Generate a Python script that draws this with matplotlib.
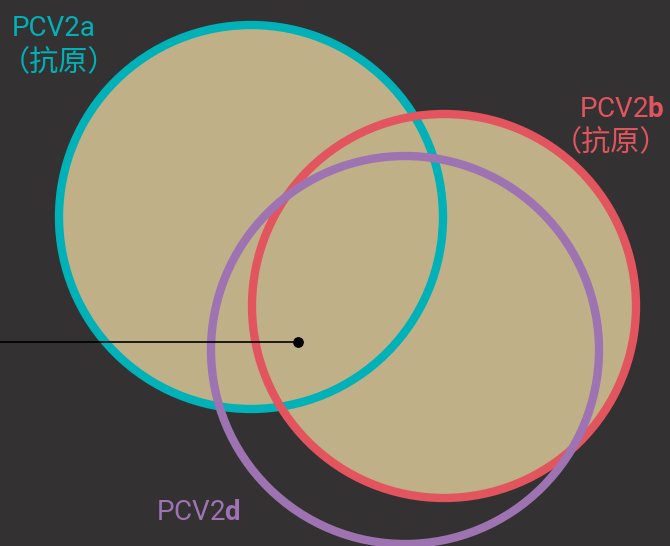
import matplotlib
matplotlib.use('Agg')
import matplotlib.pyplot as plt
from matplotlib.patches import Circle

plt.rcParams['font.family'] = ['Roboto', 'Noto Sans CJK SC', 'DejaVu Sans']
plt.rcParams['mathtext.fontset'] = 'custom'
plt.rcParams['mathtext.rm'] = 'Roboto'
plt.rcParams['mathtext.bf'] = 'Roboto:bold'

# Data (pixel-like coordinates, y grows downward)
names = ['PCV2a', 'PCV2b', 'PCV2d']
centers_x = [251, 444, 405]
centers_y = [217, 306, 350]
radii = [192, 192, 194]
filled = [True, True, False]
colors = ['#00b1b8', '#e2555e', '#9d73b2']
point_x = [298]
point_y = [342]

BG = '#333132'
FILL = '#bfb088'

fig = plt.figure(figsize=(6.7, 5.46), dpi=100)
fig.patch.set_facecolor(BG)
ax = fig.add_axes([0, 0, 1, 1])
ax.set_facecolor(BG)
ax.set_xlim(0, 670)
ax.set_ylim(546, 0)
ax.axis('off')

# fills first
for cx, cy, r, f in zip(centers_x, centers_y, radii, filled):
    if f:
        ax.add_patch(Circle((cx, cy), r, facecolor=FILL, edgecolor='none', zorder=1))

# strokes: teal, purple, red
for i in [0, 2, 1]:
    ax.add_patch(Circle((centers_x[i], centers_y[i]), radii[i], facecolor='none',
                        edgecolor=colors[i], linewidth=6, zorder=2 + i * 0.1))

# pointer line and dot
ax.plot([0, point_x[0]], [point_y[0], point_y[0]], color='black', lw=1.2, zorder=5)
ax.scatter(point_x, point_y, s=45, color='black', zorder=6)

# labels
cjk = ['Noto Sans CJK SC', 'DejaVu Sans']
ax.text(12, 36, names[0], color=colors[0], fontsize=20, va='baseline', ha='left')
ax.text(1, 63, '（抗原）', color=colors[0], fontsize=21, va='center', ha='left',
        family=cjk, fontweight='light')

ax.text(665, 117, r'PCV2$\mathbf{b}$', color=colors[1], fontsize=20, va='baseline', ha='right')
ax.text(669, 143, '（抗原）', color=colors[1], fontsize=21, va='center', ha='right',
        family=cjk, fontweight='light')

ax.text(156, 520, r'PCV2$\mathbf{d}$', color=colors[2], fontsize=20, va='baseline', ha='left')

fig.savefig('out.png', dpi=100, facecolor=BG)
